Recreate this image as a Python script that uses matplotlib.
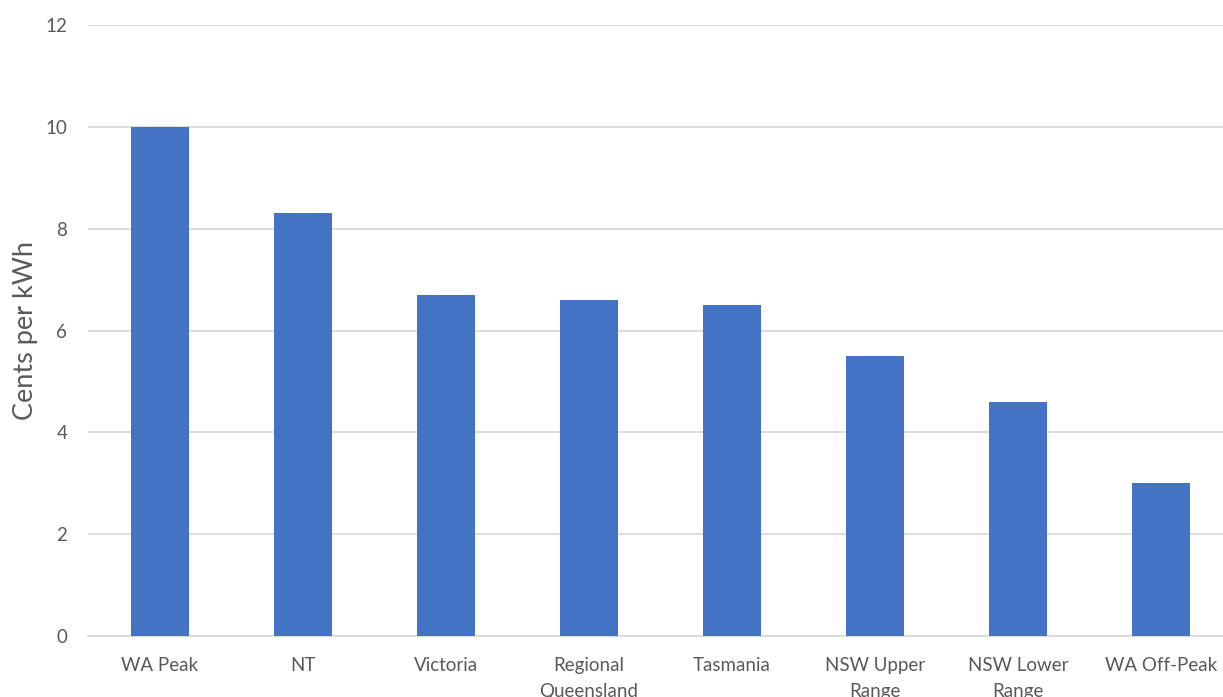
import matplotlib.pyplot as plt

# feed-in tariffs by region
regions = ["WA Peak", "NT", "Victoria", "Regional\nQueensland", "Tasmania",
           "NSW Upper\nRange", "NSW Lower\nRange", "WA Off-Peak"]
cents = [10.0, 8.3, 6.7, 6.6, 6.5, 5.5, 4.6, 3.0]

plt.rcParams['font.family'] = ['Lato', 'DejaVu Sans']

fig = plt.figure(figsize=(12.23, 6.97), dpi=100)
# plot area runs slightly past the right edge of the canvas
ax = fig.add_axes([88 / 1223, 61 / 697, 1145 / 1223, 611 / 697])

x = range(len(regions))
ax.bar(x, cents, width=0.405, color="#4472C4", zorder=3)

ax.set_xlim(-0.5, len(regions) - 0.5)
ax.set_ylim(0, 12)
ax.set_yticks(range(0, 13, 2))
ax.set_xticks(list(x))
ax.set_xticklabels(regions, fontsize=13.5, color="#595959", linespacing=1.62, va="top")
ax.tick_params(axis="y", labelsize=13.5, labelcolor="#595959", length=0, pad=15)
ax.tick_params(axis="x", length=0, pad=15)

ax.grid(axis="y", color="#D9D9D9", linewidth=1.3, zorder=0)
for side in ["top", "right", "left"]:
    ax.spines[side].set_visible(False)
ax.spines["bottom"].set_color("#D9D9D9")
ax.spines["bottom"].set_linewidth(1.3)

ax.set_ylabel("Cents per kWh", fontsize=19.5, color="#595959", labelpad=5)

fig.savefig("out.png", dpi=100)
